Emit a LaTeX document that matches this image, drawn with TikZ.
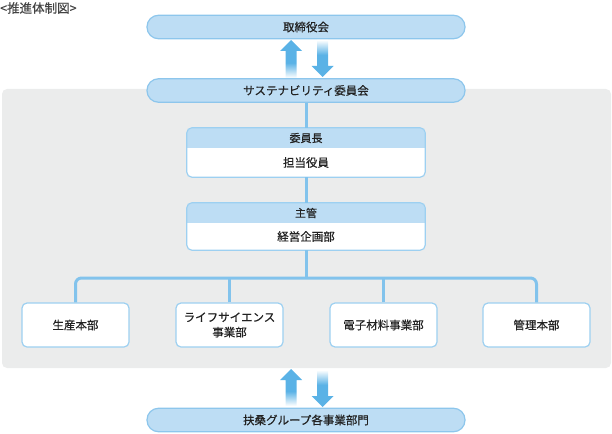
\documentclass[tikz,border=0pt]{standalone}
\usepackage{fontspec}
\setmainfont{Noto Sans CJK JP}[FakeBold=0.5]
\definecolor{pillfill}{HTML}{BDDDF4}
\definecolor{pillline}{HTML}{8DC6EC}
\definecolor{arrowblue}{HTML}{5AB2E6}
\definecolor{connblue}{HTML}{82C3EC}
\definecolor{boxline}{HTML}{9DD0F1}
\definecolor{hdrfill}{HTML}{BDDDF4}
\definecolor{panel}{HTML}{EBECEC}
\definecolor{txt}{HTML}{222222}
\pgfdeclareverticalshading{fadeup}{100bp}{color(0bp)=(white); color(25bp)=(white); color(45bp)=(arrowblue); color(100bp)=(arrowblue)}
\pgfdeclareverticalshading{fadedown}{100bp}{color(0bp)=(arrowblue); color(55bp)=(arrowblue); color(75bp)=(white); color(100bp)=(white)}
\tikzset{
  pill/.style={draw=pillline, line width=1.2pt, fill=pillfill, rounded corners=11.5pt,
    minimum width=318pt, minimum height=23.5pt, inner sep=0pt,
    font=\fontsize{11.5}{13}\selectfont, text=txt},
  hdr/.style={minimum width=238pt, minimum height=20pt, inner sep=0pt,
    font=\fontsize{11}{13}\selectfont, text=txt},
  bodytext/.style={minimum width=238pt, inner sep=0pt,
    font=\fontsize{11.5}{13}\selectfont, text=txt},
  division/.style={draw=boxline, line width=1.2pt, fill=white, rounded corners=5pt,
    minimum width=107pt, minimum height=44pt, inner sep=0pt, align=center,
    font=\fontsize{11.5}{15}\selectfont, text=txt},
  outline/.style={draw=boxline, line width=1.2pt, rounded corners=5pt},
  conn/.style={draw=connblue, line width=3pt},
}
\begin{document}
\begin{tikzpicture}[x=1pt, y=-1pt]
\useasboundingbox (0,0) rectangle (612,433);
% panel
\fill[panel, rounded corners=5pt] (2,89) rectangle (611,368);
% title
\node[anchor=west, inner sep=0pt, font=\fontsize{12.5}{14}\selectfont, text=txt!85] (title) at (0,8) {<推進体制図>};
% pills
\node[pill] (board) at (306,27) {取締役会};
\node[pill] (sus) at (306,90.5) {サステナビリティ委員会};
\node[pill] (group) at (306,420) {扶桑グループ各事業部門};
% header boxes
\fill[white, rounded corners=5pt] (187,128) rectangle (425,177);
\begin{scope}
  \clip[rounded corners=5pt] (187,128) rectangle (425,177);
  \fill[hdrfill] (187,128) rectangle (425,148);
\end{scope}
\node[hdr] (chairH) at (306,138) {委員長};
\node[bodytext, minimum height=29pt] (chairB) at (306,162.5) {担当役員};
\draw[outline] (chairH.north west) rectangle (chairB.south east);
\fill[white, rounded corners=5pt] (187,203) rectangle (425,250);
\begin{scope}
  \clip[rounded corners=5pt] (187,203) rectangle (425,250);
  \fill[hdrfill] (187,203) rectangle (425,223);
\end{scope}
\node[hdr] (mgrH) at (306,213) {主管};
\node[bodytext, minimum height=27pt] (mgrB) at (306,236.5) {経営企画部};
\draw[outline] (mgrH.north west) rectangle (mgrB.south east);
% divisions
\node[division] (d1) at (75.5,325) {生産本部};
\node[division] (d2) at (229.5,325) {ライフサイエンス\\事業部};
\node[division] (d3) at (383.5,325) {電子材料事業部};
\node[division] (d4) at (536.5,325) {管理本部};
% connectors
\coordinate (junc) at (306,278);
\draw[conn] (sus.south) -- (chairH.north);
\draw[conn] (chairB.south) -- (mgrH.north);
\draw[conn] (mgrB.south) -- (junc);
\draw[conn, rounded corners=6pt] (d1.north) -- (d1.north |- junc) -- (d4.north |- junc) -- (d4.north);
\draw[conn] (d2.north) -- (d2.north |- junc);
\draw[conn] (d3.north) -- (d3.north |- junc);
% arrows top
\shade[shading=fadeup] (291,40) -- (302,51) -- (296.5,51) -- (296.5,78) -- (285.5,78) -- (285.5,51) -- (280,51) -- cycle;
\shade[shading=fadedown] (322.5,77) -- (333.5,66) -- (328,66) -- (328,40) -- (317,40) -- (317,66) -- (311.5,66) -- cycle;
% arrows bottom
\shade[shading=fadeup] (291,369) -- (302,380) -- (296.5,380) -- (296.5,406) -- (285.5,406) -- (285.5,380) -- (280,380) -- cycle;
\shade[shading=fadedown] (322.5,407) -- (333.5,396) -- (328,396) -- (328,370) -- (317,370) -- (317,396) -- (311.5,396) -- cycle;
\end{tikzpicture}
\end{document}
